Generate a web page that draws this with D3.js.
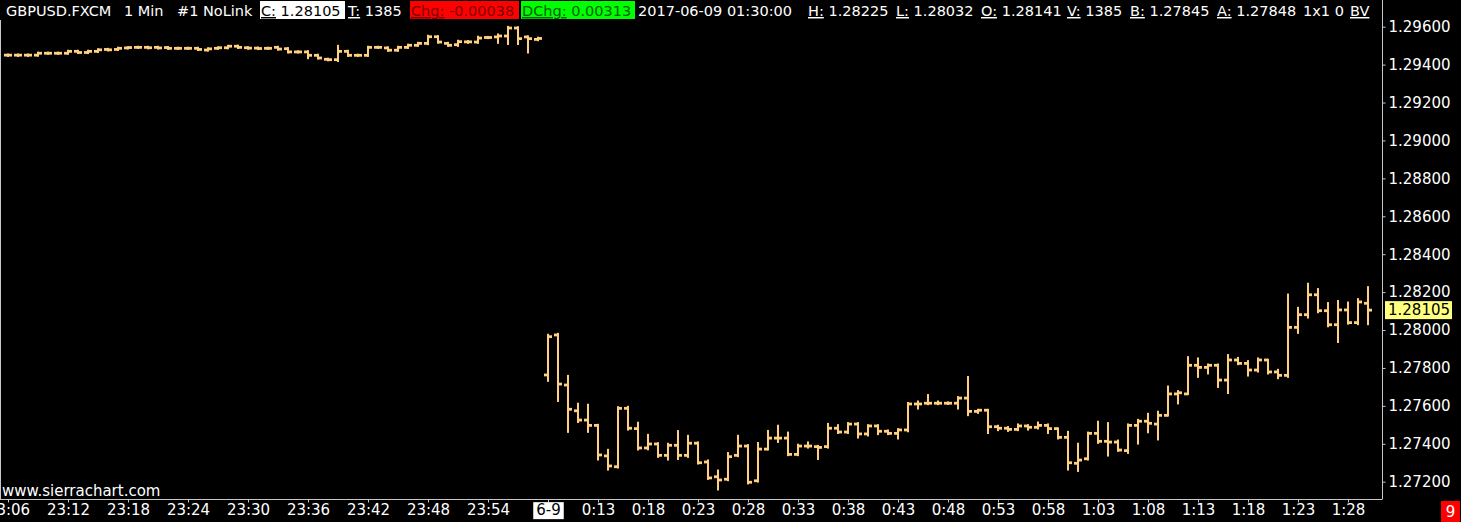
<!DOCTYPE html>
<html><head><meta charset="utf-8">
<script src="https://cdn.jsdelivr.net/npm/d3@7"></script>
<style>
html,body{margin:0;padding:0;background:#000;}
svg{display:block;}
text{font-family:"DejaVu Sans",Verdana,sans-serif;}
</style></head>
<body>
<svg id="c" width="1461" height="522"></svg>
<script>
// ---------- data (1-minute OHLC bars, index 0..136) ----------
const opens = [
1.29450,1.29450,1.29450,1.29450,1.29460,1.29460,1.29460,1.29470,1.29464,1.29470,
1.29480,1.29480,1.29488,1.29491,1.29491,1.29491,1.29490,1.29486,1.29486,1.29486,
1.29477,1.29486,1.29489,1.29497,1.29489,1.29487,1.29486,1.29491,1.29484,1.29467,
1.29467,1.29449,1.29428,1.29426,1.29470,1.29449,1.29449,1.29491,1.29488,1.29476,
1.29491,1.29502,1.29512,1.29547,1.29512,1.29505,1.29520,1.29519,1.29543,1.29546,
1.29551,1.29593,1.29546,1.29533,
1.27763,1.27974,1.27710,1.27574,1.27525,1.27497,1.27336,1.27279,1.27587,1.27480,
1.27378,1.27399,1.27339,1.27392,1.27339,1.27403,1.27304,1.27226,1.27213,1.27339,
1.27388,1.27205,1.27372,1.27430,1.27430,1.27344,1.27388,1.27385,1.27385,1.27482,
1.27462,1.27504,1.27452,1.27494,1.27466,1.27455,1.27473,1.27610,1.27614,1.27614,
1.27614,1.27614,1.27641,1.27571,1.27577,1.27490,1.27482,1.27476,1.27494,1.27487,
1.27497,1.27480,1.27434,1.27297,1.27321,1.27455,1.27413,1.27409,1.27364,1.27497,
1.27519,1.27504,1.27550,1.27663,1.27663,1.27814,1.27803,1.27814,1.27736,1.27842,
1.27824,1.27789,1.27842,1.27779,1.27761,1.28014,1.28081,1.28186,1.28102,1.28028,
1.28106,1.28039,1.28141];
const highs = [
1.29452,1.29452,1.29452,1.29462,1.29462,1.29462,1.29472,1.29472,1.29472,1.29480,
1.29482,1.29488,1.29491,1.29493,1.29493,1.29493,1.29492,1.29488,1.29488,1.29488,
1.29485,1.29490,1.29498,1.29499,1.29491,1.29489,1.29488,1.29493,1.29486,1.29469,
1.29470,1.29451,1.29430,1.29498,1.29472,1.29451,1.29493,1.29493,1.29490,1.29493,
1.29504,1.29514,1.29551,1.29549,1.29514,1.29525,1.29523,1.29546,1.29545,1.29558,
1.29598,1.29596,1.29548,1.29541,
1.27974,1.27979,1.27757,1.27610,1.27605,1.27499,1.27367,1.27592,1.27594,1.27510,
1.27446,1.27402,1.27399,1.27466,1.27441,1.27406,1.27311,1.27258,1.27350,1.27441,
1.27392,1.27403,1.27467,1.27494,1.27458,1.27394,1.27406,1.27388,1.27504,1.27497,
1.27508,1.27508,1.27497,1.27497,1.27469,1.27476,1.27614,1.27622,1.27656,1.27622,
1.27617,1.27645,1.27751,1.27578,1.27578,1.27494,1.27487,1.27501,1.27497,1.27511,
1.27501,1.27480,1.27462,1.27399,1.27458,1.27515,1.27508,1.27416,1.27501,1.27525,
1.27557,1.27568,1.27701,1.27677,1.27856,1.27849,1.27817,1.27817,1.27867,1.27852,
1.27835,1.27849,1.27842,1.27789,1.28186,1.28116,1.28243,1.28215,1.28141,1.28152,
1.28144,1.28162,1.28225];
const lows = [
1.29447,1.29447,1.29447,1.29448,1.29458,1.29458,1.29458,1.29462,1.29462,1.29468,
1.29476,1.29478,1.29486,1.29489,1.29487,1.29486,1.29484,1.29484,1.29484,1.29478,
1.29475,1.29484,1.29487,1.29489,1.29485,1.29483,1.29484,1.29480,1.29465,1.29465,
1.29435,1.29433,1.29424,1.29420,1.29447,1.29447,1.29447,1.29489,1.29474,1.29474,
1.29489,1.29500,1.29509,1.29517,1.29500,1.29500,1.29516,1.29516,1.29541,1.29516,
1.29510,1.29510,1.29465,1.29530,
1.27733,1.27627,1.27464,1.27516,1.27464,1.27318,1.27265,1.27276,1.27476,1.27371,
1.27372,1.27332,1.27318,1.27321,1.27332,1.27297,1.27216,1.27160,1.27209,1.27336,
1.27192,1.27202,1.27371,1.27411,1.27341,1.27341,1.27381,1.27321,1.27381,1.27458,
1.27458,1.27434,1.27445,1.27452,1.27452,1.27429,1.27467,1.27587,1.27610,1.27610,
1.27611,1.27587,1.27552,1.27564,1.27458,1.27473,1.27469,1.27473,1.27476,1.27482,
1.27458,1.27429,1.27265,1.27258,1.27318,1.27406,1.27339,1.27364,1.27353,1.27402,
1.27462,1.27424,1.27550,1.27614,1.27663,1.27754,1.27772,1.27701,1.27669,1.27821,
1.27761,1.27782,1.27772,1.27747,1.27754,1.27986,1.28067,1.28095,1.28021,1.27938,
1.28035,1.28032,1.28032];
const closes = [
1.29450,1.29450,1.29450,1.29460,1.29460,1.29460,1.29470,1.29464,1.29470,1.29478,
1.29478,1.29486,1.29490,1.29491,1.29489,1.29488,1.29486,1.29486,1.29486,1.29480,
1.29483,1.29489,1.29497,1.29491,1.29487,1.29485,1.29486,1.29482,1.29467,1.29467,
1.29449,1.29435,1.29426,1.29470,1.29449,1.29449,1.29491,1.29491,1.29476,1.29491,
1.29502,1.29512,1.29547,1.29519,1.29502,1.29521,1.29520,1.29540,1.29543,1.29551,
1.29593,1.29537,1.29537,1.29538,
1.27965,1.27715,1.27582,1.27525,1.27497,1.27341,1.27283,1.27587,1.27482,1.27378,
1.27399,1.27339,1.27392,1.27339,1.27403,1.27300,1.27220,1.27209,1.27332,1.27388,
1.27197,1.27372,1.27430,1.27430,1.27344,1.27388,1.27388,1.27381,1.27482,1.27462,
1.27504,1.27452,1.27494,1.27466,1.27455,1.27473,1.27610,1.27610,1.27614,1.27614,
1.27614,1.27641,1.27571,1.27577,1.27490,1.27482,1.27476,1.27494,1.27487,1.27497,
1.27480,1.27434,1.27300,1.27314,1.27455,1.27413,1.27409,1.27367,1.27497,1.27519,
1.27508,1.27550,1.27663,1.27669,1.27814,1.27803,1.27814,1.27736,1.27842,1.27824,
1.27789,1.27842,1.27779,1.27761,1.28014,1.28081,1.28186,1.28102,1.28028,1.28106,
1.28039,1.28148,1.28105];

const xTickIndex  = [0,6,12,18,24,30,36,42,48,54,59,64,69,74,79,84,89,94,99,104,109,114,119,124,129,134];
const xTickLabels = ["23:06","23:12","23:18","23:24","23:30","23:36","23:42","23:48","23:54","6-9",
  "0:13","0:18","0:23","0:28","0:33","0:38","0:43","0:48","0:53","0:58","1:03","1:08","1:13","1:18","1:23","1:28"];
const yTicks = [1.296,1.294,1.292,1.290,1.288,1.286,1.284,1.282,1.280,1.278,1.276,1.274,1.272];
const lastPrice = 1.28105;

const headerItems = [
  {x:6,   label:"",      text:"GBPUSD.FXCM"},
  {x:124, label:"",      text:"1 Min"},
  {x:177, label:"",      text:"#1 NoLink"},
  {x:261, label:"C:",    text:" 1.28105", bg:"#ffffff", fg:"#000000", bx:260, bw:85},
  {x:348, label:"T:",    text:" 1385"},
  {x:411, label:"Chg:",  text:" -0.00038", bg:"#ff0000", fg:"#800000", bx:410, bw:109},
  {x:522, label:"DChg:", text:" 0.00313", bg:"#00ff00", fg:"#006000", bx:521, bw:114},
  {x:638, label:"",      text:"2017-06-09 01:30:00"},
  {x:808, label:"H:",    text:" 1.28225"},
  {x:896, label:"L:",    text:" 1.28032"},
  {x:981, label:"O:",    text:" 1.28141"},
  {x:1067,label:"V:",    text:" 1385"},
  {x:1130,label:"B:",    text:" 1.27845"},
  {x:1217,label:"A:",    text:" 1.27848"},
  {x:1303,label:"",      text:"1x1 0"},
  {x:1350,label:"BV",    text:""}
];

// ---------- layout ----------
const barColor = "#ffd07f";
const axisColor = "#c8c8c8";
const svg = d3.select("#c");
svg.append("rect").attr("width",1461).attr("height",522).attr("fill","#000");

const x = d3.scaleLinear().domain([0,136]).range([8,1368]);
const y = d3.scaleLinear().domain([1.272,1.296]).range([481.7,26.7]);

// frame lines
svg.append("line").attr("x1",0.5).attr("x2",0.5).attr("y1",20).attr("y2",499).attr("stroke",axisColor);

// bars
const idx = d3.range(opens.length);
const g = svg.append("g");
const bars = g.selectAll("g.bar").data(idx).join("g").attr("class","bar");
bars.append("rect")
  .attr("x", i => Math.round(x(i)) - 1).attr("width", 2)
  .attr("y", i => y(highs[i]) - 1.2)
  .attr("height", i => Math.max(2.4, y(lows[i]) - y(highs[i]) + 2.4))
  .attr("fill", barColor);
bars.append("rect")
  .attr("x", i => Math.round(x(i)) - 4).attr("width", 4)
  .attr("y", i => y(opens[i]) - 1.4).attr("height", 2.8)
  .attr("fill", barColor);
bars.append("rect")
  .attr("x", i => Math.round(x(i))).attr("width", 4)
  .attr("y", i => y(closes[i]) - 1.4).attr("height", 2.8)
  .attr("fill", barColor);

// x axis
const xAxis = d3.axisBottom(x).tickValues(xTickIndex)
  .tickFormat((d,i) => xTickLabels[i]).tickSizeOuter(0).tickSizeInner(3).tickPadding(2);
const gx = svg.append("g").attr("transform","translate(0,499.5)").call(xAxis);
gx.select(".domain").remove();
svg.append("line").attr("x1",0).attr("x2",1382).attr("y1",499.5).attr("y2",499.5).attr("stroke",axisColor);
gx.selectAll(".tick line").attr("stroke",axisColor);
gx.selectAll(".tick text").attr("fill","#fff").attr("font-size","15px")
  .attr("font-family","DejaVu Sans").attr("dy","0.71em");
gx.selectAll(".tick").filter((d,i)=>xTickLabels[i]==="6-9").each(function(){
  const t = d3.select(this).select("text");
  const bb = t.node().getBBox();
  d3.select(this).insert("rect","text").attr("x",bb.x-3).attr("y",bb.y+1).attr("width",bb.width+6).attr("height",bb.height-1).attr("fill","#fff");
  t.attr("fill","#000");
});

// y axis
const yAxis = d3.axisRight(y).tickValues(yTicks).tickFormat(d3.format(".5f"))
  .tickSizeOuter(0).tickSizeInner(3).tickPadding(3);
const gy = svg.append("g").attr("transform","translate(1382.5,0)").call(yAxis);
gy.select(".domain").remove();
svg.append("line").attr("x1",1382.5).attr("x2",1382.5).attr("y1",0).attr("y2",499.5).attr("stroke",axisColor);
gy.selectAll(".tick line").attr("stroke",axisColor);
gy.selectAll(".tick text").attr("fill","#fff").attr("font-size","15px").attr("font-family","DejaVu Sans");

// last price marker
const lp = svg.append("g").attr("transform",`translate(1385,${y(lastPrice)})`);
lp.append("rect").attr("x",0).attr("y",-9).attr("width",67).attr("height",18).attr("fill","#ffff80");
lp.append("text").attr("x",3).attr("y",0).attr("dy","0.35em").attr("font-size","15px").attr("fill","#000").text(d3.format(".5f")(lastPrice));

// header
const hdr = svg.append("g");
headerItems.forEach(h => {
  if (h.bg) hdr.append("rect").attr("x",h.bx).attr("y",1).attr("width",h.bw).attr("height",18).attr("fill",h.bg);
  const t = hdr.append("text").attr("x",h.x).attr("y",16).attr("font-size","14.5px").attr("fill",h.fg||"#fff");
  if (h.label) t.append("tspan").attr("text-decoration","underline").text(h.label);
  if (h.text) t.append("tspan").text(h.text);
});

// watermark
svg.append("text").attr("x",2).attr("y",496).attr("font-size","15px").attr("fill","#fff").text("www.sierrachart.com");

// red "9" box
svg.append("rect").attr("x",1441).attr("y",501).attr("width",19).attr("height",21).attr("fill","#ff0000");
svg.append("text").attr("x",1450.5).attr("y",517).attr("text-anchor","middle").attr("font-size","15px").attr("fill","#fff").text("9");
</script>
</body></html>
